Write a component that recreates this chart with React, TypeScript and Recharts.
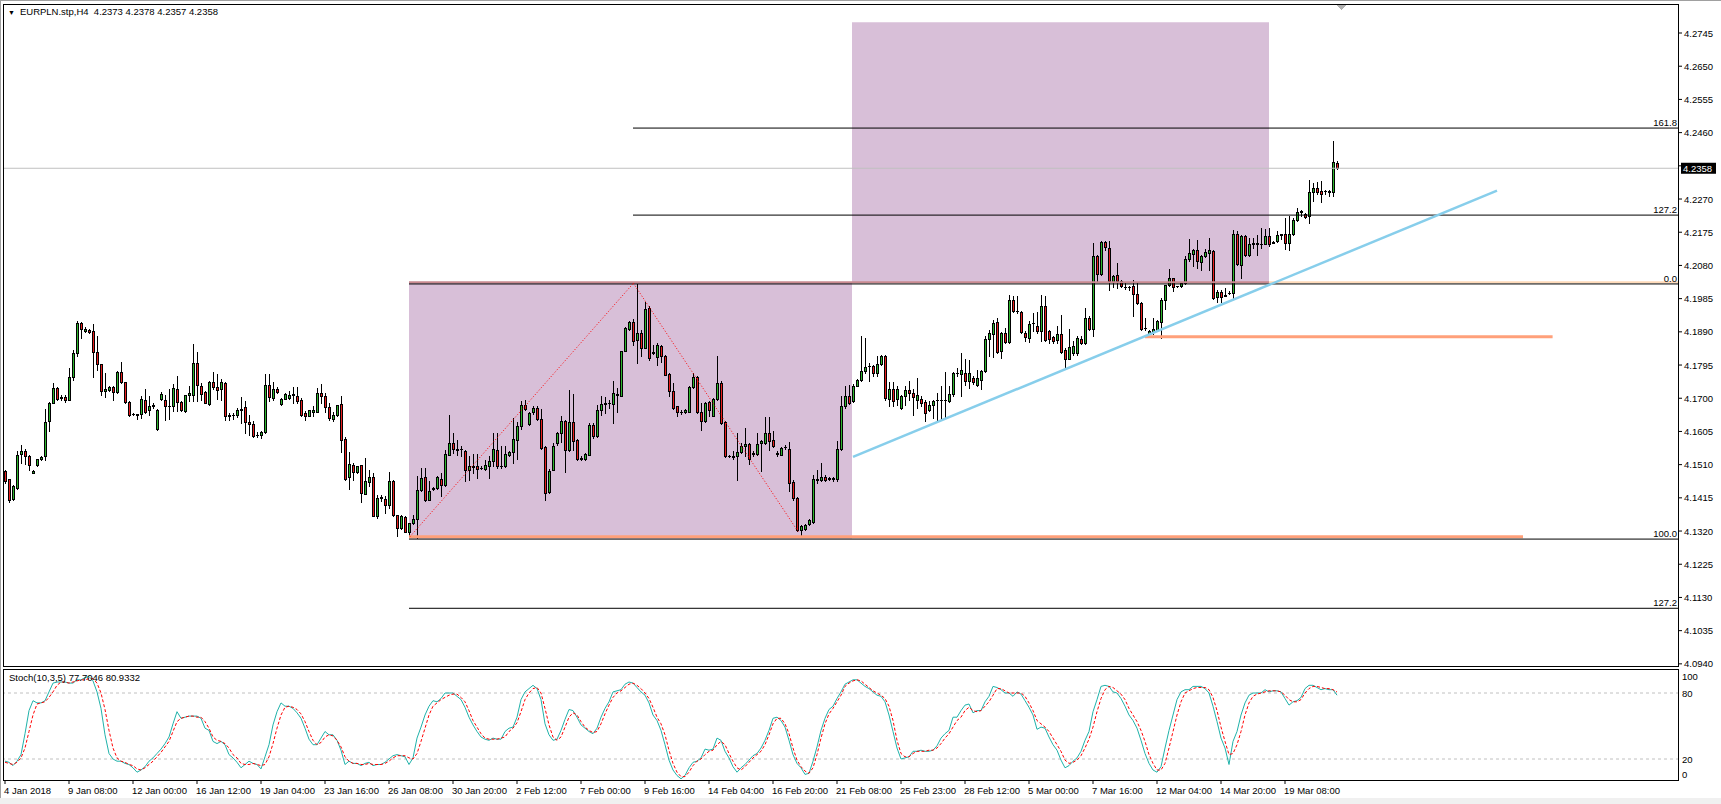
import { ComposedChart, Bar, Line, XAxis, YAxis, ReferenceLine, ReferenceArea } from 'recharts';

// EURPLN H4 candles, one value per bar (bar index = position in array)
const opens = [
  4.1491, 4.1470, 4.1412, 4.1442, 4.1541, 4.1550, 4.1534, 4.1487, 4.1508, 4.1527,
  4.1534, 4.1634, 4.1687, 4.1729, 4.1701, 4.1704, 4.1696, 4.1760, 4.1830, 4.1915,
  4.1891, 4.1896, 4.1891, 4.1831, 4.1799, 4.1722, 4.1723, 4.1732, 4.1717, 4.1774,
  4.1746, 4.1689, 4.1654, 4.1655, 4.1655, 4.1696, 4.1665, 4.1679, 4.1612, 4.1698,
  4.1696, 4.1677, 4.1679, 4.1727, 4.1688, 4.1663, 4.1708, 4.1708, 4.1801, 4.1736,
  4.1717, 4.1684, 4.1747, 4.1732, 4.1727, 4.1744, 4.1650, 4.1651, 4.1653, 4.1667,
  4.1675, 4.1632, 4.1625, 4.1594, 4.1596, 4.1603, 4.1739, 4.1701, 4.1727, 4.1684,
  4.1699, 4.1701, 4.1709, 4.1705, 4.1694, 4.1659, 4.1650, 4.1661, 4.1660, 4.1715,
  4.1706, 4.1675, 4.1641, 4.1651, 4.1684, 4.1582, 4.1475, 4.1510, 4.1488, 4.1508,
  4.1427, 4.1461, 4.1475, 4.1363, 4.1414, 4.1412, 4.1394, 4.1463, 4.1365, 4.1329,
  4.1361, 4.1318, 4.1342, 4.1355, 4.1437, 4.1474, 4.1410, 4.1439, 4.1444, 4.1469,
  4.1451, 4.1539, 4.1572, 4.1554, 4.1554, 4.1550, 4.1494, 4.1504, 4.1507, 4.1500,
  4.1498, 4.1507, 4.1519, 4.1553, 4.1506, 4.1505, 4.1539, 4.1545, 4.1581, 4.1620,
  4.1680, 4.1627, 4.1660, 4.1672, 4.1641, 4.1560, 4.1431, 4.1496, 4.1572, 4.1600,
  4.1636, 4.1551, 4.1632, 4.1581, 4.1527, 4.1527, 4.1539, 4.1624, 4.1591, 4.1665,
  4.1683, 4.1685, 4.1683, 4.1711, 4.1705, 4.1836, 4.1898, 4.1917, 4.1867, 4.1888,
  4.1843, 4.1958, 4.1829, 4.1817, 4.1850, 4.1822, 4.1769, 4.1721, 4.1677, 4.1661,
  4.1660, 4.1662, 4.1732, 4.1762, 4.1660, 4.1634, 4.1688, 4.1650, 4.1698, 4.1745,
  4.1631, 4.1535, 4.1534, 4.1534, 4.1545, 4.1562, 4.1570, 4.1541, 4.1541, 4.1572,
  4.1572, 4.1600, 4.1581, 4.1542, 4.1539, 4.1560, 4.1555, 4.1459, 4.1415, 4.1322,
  4.1326, 4.1341, 4.1345, 4.1467, 4.1465, 4.1475, 4.1470, 4.1471, 4.1470, 4.1555,
  4.1677, 4.1707, 4.1691, 4.1736, 4.1751, 4.1777, 4.1791, 4.1792, 4.1772, 4.1798,
  4.1820, 4.1699, 4.1727, 4.1698, 4.1672, 4.1706, 4.1723, 4.1715, 4.1696, 4.1698,
  4.1689, 4.1666, 4.1680, 4.1694, 4.1695, 4.1694, 4.1691, 4.1711, 4.1772, 4.1768,
  4.1772, 4.1749, 4.1758, 4.1737, 4.1753, 4.1777, 4.1870, 4.1885, 4.1918, 4.1834,
  4.1887, 4.1860, 4.1982, 4.1949, 4.1947, 4.1887, 4.1873, 4.1914, 4.1908, 4.1892,
  4.1963, 4.1892, 4.1875, 4.1868, 4.1884, 4.1837, 4.1812, 4.1828, 4.1828, 4.1870,
  4.1858, 4.1930, 4.1898, 4.2106, 4.2056, 4.2146, 4.2130, 4.2033, 4.2054, 4.2036,
  4.2019, 4.2018, 4.2022, 4.1998, 4.1973, 4.1900, 4.1887, 4.1889, 4.1896, 4.1918,
  4.1982, 4.2025, 4.2044, 4.2021, 4.2022, 4.2030, 4.2098, 4.2114, 4.2125, 4.2089,
  4.2106, 4.2116, 4.2120, 4.1990, 4.2004, 4.1993, 4.2000, 4.2001, 4.2170, 4.2081,
  4.2165, 4.2109, 4.2142, 4.2144, 4.2141, 4.2141, 4.2165, 4.2145, 4.2149, 4.2168,
  4.2170, 4.2144, 4.2170, 4.2211, 4.2234, 4.2227, 4.2221, 4.2290, 4.2302, 4.2294,
  4.2292, 4.2292, 4.2290, 4.2373,
];

const highs = [
  4.1496, 4.1470, 4.1453, 4.1548, 4.1567, 4.1556, 4.1539, 4.1496, 4.1527, 4.1536,
  4.1670, 4.1688, 4.1744, 4.1732, 4.1710, 4.1710, 4.1787, 4.1839, 4.1920, 4.1917,
  4.1904, 4.1898, 4.1911, 4.1877, 4.1799, 4.1772, 4.1736, 4.1736, 4.1777, 4.1803,
  4.1746, 4.1691, 4.1658, 4.1656, 4.1706, 4.1725, 4.1706, 4.1687, 4.1668, 4.1717,
  4.1710, 4.1725, 4.1741, 4.1765, 4.1691, 4.1710, 4.1734, 4.1856, 4.1831, 4.1744,
  4.1720, 4.1750, 4.1774, 4.1770, 4.1756, 4.1747, 4.1658, 4.1658, 4.1672, 4.1704,
  4.1691, 4.1653, 4.1634, 4.1604, 4.1606, 4.1770, 4.1768, 4.1746, 4.1732, 4.1701,
  4.1715, 4.1720, 4.1732, 4.1732, 4.1701, 4.1663, 4.1667, 4.1679, 4.1729, 4.1741,
  4.1715, 4.1685, 4.1660, 4.1682, 4.1706, 4.1589, 4.1546, 4.1515, 4.1506, 4.1510,
  4.1529, 4.1496, 4.1485, 4.1424, 4.1424, 4.1420, 4.1488, 4.1467, 4.1367, 4.1367,
  4.1363, 4.1344, 4.1367, 4.1477, 4.1501, 4.1501, 4.1463, 4.1446, 4.1477, 4.1486,
  4.1553, 4.1653, 4.1600, 4.1581, 4.1562, 4.1553, 4.1534, 4.1541, 4.1540, 4.1505,
  4.1524, 4.1536, 4.1600, 4.1600, 4.1562, 4.1562, 4.1548, 4.1643, 4.1631, 4.1691,
  4.1696, 4.1660, 4.1677, 4.1677, 4.1669, 4.1562, 4.1498, 4.1572, 4.1602, 4.1650,
  4.1639, 4.1724, 4.1712, 4.1583, 4.1534, 4.1543, 4.1629, 4.1629, 4.1681, 4.1705,
  4.1703, 4.1696, 4.1748, 4.1729, 4.1836, 4.1905, 4.1920, 4.1926, 4.2027, 4.1896,
  4.1974, 4.1963, 4.1853, 4.1858, 4.1853, 4.1824, 4.1772, 4.1743, 4.1679, 4.1667,
  4.1669, 4.1734, 4.1772, 4.1764, 4.1686, 4.1688, 4.1691, 4.1701, 4.1820, 4.1748,
  4.1634, 4.1539, 4.1548, 4.1600, 4.1572, 4.1615, 4.1572, 4.1548, 4.1600, 4.1581,
  4.1646, 4.1646, 4.1605, 4.1548, 4.1560, 4.1567, 4.1574, 4.1467, 4.1417, 4.1338,
  4.1340, 4.1355, 4.1481, 4.1494, 4.1515, 4.1481, 4.1475, 4.1475, 4.1577, 4.1705,
  4.1734, 4.1739, 4.1740, 4.1755, 4.1877, 4.1873, 4.1801, 4.1796, 4.1820, 4.1825,
  4.1825, 4.1746, 4.1746, 4.1734, 4.1708, 4.1734, 4.1749, 4.1725, 4.1758, 4.1706,
  4.1696, 4.1691, 4.1696, 4.1715, 4.1734, 4.1774, 4.1736, 4.1774, 4.1787, 4.1828,
  4.1812, 4.1809, 4.1765, 4.1782, 4.1780, 4.1879, 4.1894, 4.1923, 4.1930, 4.1889,
  4.1901, 4.1996, 4.1992, 4.1992, 4.1949, 4.1892, 4.1920, 4.1944, 4.1946, 4.1994,
  4.1992, 4.1894, 4.1877, 4.1906, 4.1939, 4.1844, 4.1898, 4.1863, 4.1877, 4.1877,
  4.1958, 4.1934, 4.2144, 4.2111, 4.2149, 4.2149, 4.2149, 4.2054, 4.2087, 4.2039,
  4.2030, 4.2022, 4.2037, 4.2030, 4.1975, 4.1930, 4.1896, 4.1930, 4.1925, 4.1987,
  4.2025, 4.2070, 4.2044, 4.2022, 4.2032, 4.2106, 4.2156, 4.2127, 4.2152, 4.2111,
  4.2127, 4.2158, 4.2123, 4.2011, 4.2011, 4.2016, 4.2006, 4.2182, 4.2178, 4.2168,
  4.2168, 4.2159, 4.2159, 4.2168, 4.2187, 4.2184, 4.2187, 4.2149, 4.2178, 4.2170,
  4.2216, 4.2221, 4.2216, 4.2244, 4.2240, 4.2230, 4.2325, 4.2316, 4.2318, 4.2321,
  4.2295, 4.2295, 4.2437, 4.2378,
];

const lows = [
  4.1458, 4.1403, 4.1408, 4.1439, 4.1515, 4.1512, 4.1496, 4.1485, 4.1506, 4.1523,
  4.1523, 4.1606, 4.1685, 4.1696, 4.1696, 4.1689, 4.1696, 4.1753, 4.1820, 4.1872,
  4.1889, 4.1887, 4.1761, 4.1782, 4.1708, 4.1704, 4.1720, 4.1696, 4.1715, 4.1744,
  4.1685, 4.1648, 4.1651, 4.1641, 4.1644, 4.1658, 4.1653, 4.1672, 4.1610, 4.1696,
  4.1639, 4.1641, 4.1663, 4.1663, 4.1663, 4.1661, 4.1691, 4.1691, 4.1691, 4.1696,
  4.1685, 4.1682, 4.1727, 4.1698, 4.1696, 4.1639, 4.1639, 4.1641, 4.1647, 4.1629,
  4.1601, 4.1596, 4.1589, 4.1589, 4.1587, 4.1601, 4.1691, 4.1696, 4.1715, 4.1682,
  4.1698, 4.1698, 4.1685, 4.1687, 4.1650, 4.1639, 4.1648, 4.1648, 4.1660, 4.1687,
  4.1660, 4.1639, 4.1634, 4.1650, 4.1546, 4.1467, 4.1441, 4.1467, 4.1485, 4.1403,
  4.1425, 4.1448, 4.1363, 4.1358, 4.1405, 4.1372, 4.1386, 4.1364, 4.1305, 4.1326,
  4.1317, 4.1310, 4.1339, 4.1301, 4.1434, 4.1405, 4.1408, 4.1437, 4.1439, 4.1420,
  4.1448, 4.1539, 4.1543, 4.1539, 4.1536, 4.1462, 4.1467, 4.1486, 4.1472, 4.1498,
  4.1496, 4.1472, 4.1505, 4.1500, 4.1500, 4.1503, 4.1536, 4.1515, 4.1526, 4.1612,
  4.1667, 4.1624, 4.1656, 4.1639, 4.1555, 4.1408, 4.1429, 4.1494, 4.1567, 4.1574,
  4.1488, 4.1548, 4.1551, 4.1524, 4.1522, 4.1524, 4.1537, 4.1586, 4.1589, 4.1653,
  4.1658, 4.1672, 4.1629, 4.1662, 4.1705, 4.1834, 4.1896, 4.1853, 4.1801, 4.1820,
  4.1843, 4.1810, 4.1827, 4.1796, 4.1805, 4.1767, 4.1705, 4.1669, 4.1648, 4.1656,
  4.1658, 4.1660, 4.1729, 4.1658, 4.1608, 4.1631, 4.1648, 4.1648, 4.1696, 4.1627,
  4.1532, 4.1532, 4.1526, 4.1467, 4.1543, 4.1536, 4.1513, 4.1534, 4.1539, 4.1491,
  4.1570, 4.1551, 4.1560, 4.1534, 4.1537, 4.1555, 4.1434, 4.1410, 4.1319, 4.1310,
  4.1324, 4.1338, 4.1343, 4.1458, 4.1462, 4.1462, 4.1467, 4.1462, 4.1462, 4.1553,
  4.1672, 4.1684, 4.1688, 4.1734, 4.1749, 4.1772, 4.1749, 4.1763, 4.1763, 4.1796,
  4.1696, 4.1677, 4.1679, 4.1682, 4.1670, 4.1682, 4.1696, 4.1653, 4.1672, 4.1677,
  4.1634, 4.1663, 4.1644, 4.1639, 4.1641, 4.1644, 4.1689, 4.1706, 4.1765, 4.1706,
  4.1739, 4.1730, 4.1741, 4.1734, 4.1725, 4.1774, 4.1820, 4.1818, 4.1830, 4.1815,
  4.1858, 4.1858, 4.1946, 4.1944, 4.1887, 4.1863, 4.1860, 4.1892, 4.1887, 4.1863,
  4.1863, 4.1858, 4.1858, 4.1858, 4.1830, 4.1784, 4.1811, 4.1825, 4.1825, 4.1856,
  4.1856, 4.1896, 4.1877, 4.2032, 4.2054, 4.2125, 4.2011, 4.2018, 4.2015, 4.2018,
  4.2013, 4.2011, 4.1934, 4.1971, 4.1896, 4.1896, 4.1885, 4.1885, 4.1894, 4.1873,
  4.1954, 4.2022, 4.2006, 4.2018, 4.2018, 4.2028, 4.2092, 4.2077, 4.2073, 4.2068,
  4.2104, 4.2066, 4.1984, 4.1975, 4.1975, 4.1992, 4.1999, 4.1987, 4.2081, 4.2044,
  4.2108, 4.2106, 4.2130, 4.2111, 4.2130, 4.2140, 4.2137, 4.2144, 4.2146, 4.2156,
  4.2127, 4.2123, 4.2168, 4.2206, 4.2221, 4.2216, 4.2202, 4.2264, 4.2285, 4.2261,
  4.2283, 4.2280, 4.2280, 4.2357,
];

const closes = [
  4.1463, 4.1410, 4.1448, 4.1539, 4.1550, 4.1536, 4.1508, 4.1493, 4.1525, 4.1532,
  4.1632, 4.1687, 4.1729, 4.1699, 4.1704, 4.1694, 4.1761, 4.1830, 4.1915, 4.1898,
  4.1898, 4.1890, 4.1831, 4.1799, 4.1720, 4.1725, 4.1732, 4.1717, 4.1774, 4.1746,
  4.1689, 4.1651, 4.1656, 4.1653, 4.1699, 4.1660, 4.1679, 4.1681, 4.1667, 4.1712,
  4.1677, 4.1679, 4.1729, 4.1688, 4.1666, 4.1708, 4.1715, 4.1801, 4.1737, 4.1713,
  4.1687, 4.1747, 4.1732, 4.1723, 4.1747, 4.1648, 4.1651, 4.1653, 4.1667, 4.1670,
  4.1631, 4.1626, 4.1591, 4.1596, 4.1603, 4.1739, 4.1703, 4.1725, 4.1717, 4.1698,
  4.1712, 4.1710, 4.1711, 4.1691, 4.1653, 4.1650, 4.1665, 4.1666, 4.1715, 4.1706,
  4.1675, 4.1644, 4.1653, 4.1682, 4.1580, 4.1470, 4.1512, 4.1488, 4.1506, 4.1429,
  4.1463, 4.1474, 4.1364, 4.1415, 4.1416, 4.1394, 4.1463, 4.1367, 4.1329, 4.1364,
  4.1318, 4.1342, 4.1355, 4.1437, 4.1472, 4.1410, 4.1434, 4.1444, 4.1474, 4.1451,
  4.1541, 4.1572, 4.1555, 4.1553, 4.1556, 4.1494, 4.1505, 4.1506, 4.1498, 4.1501,
  4.1508, 4.1521, 4.1555, 4.1505, 4.1507, 4.1540, 4.1546, 4.1583, 4.1620, 4.1681,
  4.1670, 4.1658, 4.1672, 4.1641, 4.1558, 4.1429, 4.1493, 4.1564, 4.1600, 4.1634,
  4.1551, 4.1632, 4.1577, 4.1527, 4.1528, 4.1540, 4.1624, 4.1591, 4.1667, 4.1684,
  4.1685, 4.1686, 4.1715, 4.1710, 4.1836, 4.1901, 4.1917, 4.1865, 4.1888, 4.1843,
  4.1955, 4.1815, 4.1831, 4.1853, 4.1820, 4.1767, 4.1720, 4.1672, 4.1660, 4.1662,
  4.1667, 4.1732, 4.1762, 4.1660, 4.1634, 4.1686, 4.1665, 4.1698, 4.1743, 4.1629,
  4.1534, 4.1536, 4.1533, 4.1546, 4.1562, 4.1570, 4.1526, 4.1542, 4.1570, 4.1577,
  4.1600, 4.1577, 4.1562, 4.1541, 4.1558, 4.1561, 4.1457, 4.1415, 4.1324, 4.1334,
  4.1338, 4.1353, 4.1470, 4.1468, 4.1475, 4.1465, 4.1471, 4.1470, 4.1555, 4.1677,
  4.1707, 4.1686, 4.1736, 4.1751, 4.1777, 4.1789, 4.1792, 4.1771, 4.1798, 4.1820,
  4.1701, 4.1727, 4.1691, 4.1725, 4.1706, 4.1723, 4.1715, 4.1704, 4.1708, 4.1685,
  4.1658, 4.1682, 4.1691, 4.1695, 4.1694, 4.1695, 4.1711, 4.1772, 4.1773, 4.1782,
  4.1749, 4.1772, 4.1746, 4.1758, 4.1777, 4.1870, 4.1887, 4.1915, 4.1832, 4.1887,
  4.1860, 4.1982, 4.1949, 4.1950, 4.1889, 4.1875, 4.1913, 4.1915, 4.1892, 4.1963,
  4.1868, 4.1870, 4.1863, 4.1884, 4.1832, 4.1812, 4.1847, 4.1849, 4.1873, 4.1858,
  4.1930, 4.1898, 4.2106, 4.2056, 4.2146, 4.2132, 4.2035, 4.2051, 4.2035, 4.2022,
  4.2018, 4.2019, 4.1998, 4.1973, 4.1898, 4.1901, 4.1893, 4.1898, 4.1920, 4.1982,
  4.2025, 4.2044, 4.2018, 4.2020, 4.2030, 4.2098, 4.2116, 4.2125, 4.2092, 4.2106,
  4.2118, 4.2123, 4.1987, 4.2004, 4.1990, 4.1995, 4.2001, 4.2170, 4.2084, 4.2165,
  4.2111, 4.2142, 4.2144, 4.2141, 4.2140, 4.2165, 4.2141, 4.2146, 4.2168, 4.2169,
  4.2144, 4.2170, 4.2211, 4.2233, 4.2235, 4.2218, 4.2290, 4.2302, 4.2290, 4.2285,
  4.2292, 4.2291, 4.2376, 4.2358,
];

// Stoch(10,3,5): main line and signal line
const stochMain = [
  18, 17, 14, 18, 24, 43, 64, 73, 71, 71,
  73, 81, 89, 90, 90, 90, 89, 89, 92, 92,
  94, 95, 91, 81, 66, 42, 25, 20, 18, 18,
  16, 15, 12, 8, 10, 13, 18, 21, 25, 29,
  34, 40, 52, 63, 57, 58, 59, 59, 59, 57,
  48, 46, 36, 34, 36, 33, 24, 21, 17, 12,
  15, 18, 16, 15, 11, 22, 33, 51, 63, 71,
  68, 68, 66, 62, 57, 48, 38, 33, 33, 39,
  45, 42, 42, 37, 28, 15, 18, 16, 16, 14,
  16, 17, 14, 15, 15, 17, 20, 23, 24, 23,
  22, 15, 21, 39, 49, 60, 68, 73, 72, 75,
  80, 80, 80, 77, 74, 67, 58, 51, 45, 40,
  38, 37, 39, 38, 38, 45, 48, 49, 58, 74,
  81, 84, 87, 84, 74, 52, 42, 37, 38, 46,
  56, 65, 64, 58, 51, 48, 45, 43, 48, 58,
  66, 72, 81, 82, 83, 88, 90, 89, 85, 81,
  78, 71, 60, 55, 46, 33, 19, 10, 5, 2,
  5, 12, 17, 18, 21, 29, 28, 29, 39, 37,
  27, 21, 13, 8, 12, 15, 19, 23, 25, 30,
  37, 46, 57, 58, 55, 49, 37, 24, 16, 12,
  6, 7, 18, 31, 46, 57, 65, 68, 75, 81,
  88, 90, 92, 92, 89, 86, 84, 81, 78, 77,
  72, 60, 45, 30, 20, 21, 22, 27, 27, 28,
  27, 27, 28, 32, 39, 43, 46, 58, 58, 64,
  69, 70, 62, 64, 64, 72, 77, 86, 85, 83,
  80, 80, 77, 81, 79, 73, 67, 60, 47, 49,
  48, 40, 33, 28, 19, 12, 14, 18, 21, 27,
  37, 45, 63, 74, 86, 87, 86, 81, 80, 75,
  68, 60, 55, 48, 37, 25, 16, 10, 8, 13,
  30, 46, 60, 74, 81, 83, 83, 86, 86, 86,
  84, 80, 68, 54, 39, 30, 15, 36, 45, 60,
  71, 78, 80, 80, 80, 83, 81, 82, 82, 81,
  75, 69, 72, 73, 76, 84, 87, 87, 85, 83,
  84, 83, 83, 78,
];

const stochSignal = [
  17, 16, 15, 17, 21, 30, 45, 60, 70, 71,
  72, 76, 81, 87, 90, 90, 89, 90, 91, 92,
  92, 93, 93, 89, 80, 65, 46, 30, 21, 18,
  17, 15, 14, 11, 10, 12, 15, 18, 22, 26,
  31, 36, 45, 54, 57, 58, 59, 59, 58, 58,
  54, 48, 40, 37, 36, 34, 30, 24, 21, 16,
  15, 15, 16, 15, 14, 15, 22, 34, 48, 60,
  67, 68, 67, 65, 61, 54, 45, 37, 33, 35,
  40, 42, 41, 37, 31, 22, 18, 16, 16, 15,
  15, 16, 15, 15, 15, 16, 18, 21, 23, 23,
  23, 21, 20, 25, 36, 48, 60, 68, 71, 74,
  76, 78, 79, 79, 76, 72, 64, 55, 49, 43,
  39, 38, 38, 38, 39, 40, 45, 48, 53, 63,
  74, 80, 84, 85, 80, 66, 51, 40, 37, 40,
  49, 58, 62, 60, 54, 49, 46, 44, 45, 52,
  61, 69, 76, 80, 82, 85, 88, 89, 87, 84,
  80, 75, 67, 58, 52, 42, 28, 16, 8, 4,
  4, 8, 14, 18, 20, 24, 27, 28, 33, 36,
  33, 25, 18, 12, 10, 13, 17, 21, 24, 27,
  33, 42, 52, 57, 57, 52, 43, 30, 19, 13,
  9, 7, 12, 24, 39, 52, 61, 66, 72, 78,
  86, 89, 91, 92, 91, 88, 85, 82, 80, 78,
  75, 68, 55, 37, 25, 22, 22, 25, 27, 27,
  27, 28, 28, 30, 34, 39, 43, 49, 55, 58,
  64, 67, 64, 63, 64, 68, 72, 78, 84, 84,
  82, 80, 80, 80, 80, 77, 71, 64, 55, 52,
  49, 45, 39, 33, 27, 19, 16, 17, 19, 23,
  30, 38, 49, 63, 75, 83, 86, 85, 82, 79,
  74, 66, 60, 54, 46, 36, 24, 16, 10, 10,
  16, 30, 45, 60, 72, 80, 82, 84, 85, 85,
  85, 83, 76, 64, 49, 36, 24, 25, 33, 45,
  60, 71, 77, 79, 80, 81, 82, 82, 82, 81,
  78, 74, 72, 72, 74, 80, 84, 86, 86, 85,
  84, 84, 83, 81,
];

const dateTicks = [0, 16, 32, 48, 64, 80, 96, 112, 128, 144, 160, 176, 192, 208, 224, 240, 256, 272, 288, 304, 320];
const dateLabels = [
  '4 Jan 2018', '9 Jan 08:00', '12 Jan 00:00', '16 Jan 12:00', '19 Jan 04:00', '23 Jan 16:00',
  '26 Jan 08:00', '30 Jan 20:00', '2 Feb 12:00', '7 Feb 00:00', '9 Feb 16:00', '14 Feb 04:00',
  '16 Feb 20:00', '21 Feb 08:00', '25 Feb 23:00', '28 Feb 12:00', '5 Mar 00:00', '7 Mar 16:00',
  '12 Mar 04:00', '14 Mar 20:00', '19 Mar 08:00',
];
const priceTicks = [
  4.0940, 4.1035, 4.1130, 4.1225, 4.1320, 4.1415, 4.1510, 4.1605, 4.1700, 4.1795,
  4.1890, 4.1985, 4.2080, 4.2175, 4.2270, 4.2365, 4.2460, 4.2555, 4.2650, 4.2745,
];
const hiddenPriceTicks = [4.2365];
const stochTicks = [0, 20, 80, 100];
const lastPrice = 4.2358;

// drawn objects on the price chart
const fibLevels = [
  { label: '161.8', price: 4.2473, from: 157 },
  { label: '127.2', price: 4.2224, from: 157 },
  { label: '0.0', price: 4.2027, from: 101 },
  { label: '100.0', price: 4.1297, from: 101 },
  { label: '127.2', price: 4.1099, from: 101 },
];
const boxes = [
  { x1: 101, x2: 211.75, y1: 4.1299, y2: 4.2031 },
  { x1: 211.75, x2: 316, y1: 4.2031, y2: 4.2776 },
];
const salmonLines = [
  { x1: 101, x2: 379.5, price: 4.1304 },
  { x1: 285, x2: 386.9, price: 4.1876 },
];
const trendLine = [{ x: 212, y: 4.1532 }, { x: 373, y: 4.2294 }];
const zigzag = [
  { x: 101.25, y: 4.1304 },
  { x: 157.1, y: 4.2029 },
  { x: 198.3, y: 4.1318 },
];

const X_DOMAIN: [number, number] = [-0.5, 418.5];
const FONT = '"Liberation Sans", Arial, sans-serif';
const BULL = '#2DB52D';
const BEAR = '#E81E1E';

const candles = opens.map((o, i) => ({
  i,
  o,
  h: highs[i],
  l: lows[i],
  c: closes[i],
  range: [lows[i], highs[i]],
}));
const stoch = stochMain.map((k, i) => ({ i, k, d: stochSignal[i] }));

const Candle = (props: any) => {
  const { x, y, width, height, payload } = props;
  if (x == null || y == null || !payload) return null;
  const top = Math.min(y, y + height);
  const h = Math.abs(height);
  const span = payload.h - payload.l;
  const py = (p: number) => (span > 0 ? top + ((payload.h - p) / span) * h : top);
  const cx = Math.round(x + width / 2);
  const bTop = Math.round(py(Math.max(payload.o, payload.c)));
  const bBot = Math.round(py(Math.min(payload.o, payload.c)));
  const up = payload.c >= payload.o;
  return (
    <g shapeRendering="crispEdges">
      <rect x={cx} y={Math.round(top)} width={1} height={Math.max(1, Math.round(top + h) - Math.round(top) + 1)} fill="#000" />
      <rect x={cx - 1} y={bTop} width={3} height={Math.max(1, bBot - bTop + 1)} fill="#000" />
      {bBot - bTop > 1 && <rect x={cx} y={bTop + 1} width={1} height={bBot - bTop - 1} fill={up ? BULL : BEAR} />}
    </g>
  );
};

const PriceTick = (props: any) => {
  const { x, y, payload } = props;
  if (hiddenPriceTicks.includes(payload.value)) return null;
  return (
    <text x={x} y={y + 3.5} fontSize={9.5} fontFamily={FONT} fill="#000" textAnchor="start">
      {Number(payload.value).toFixed(4)}
    </text>
  );
};

const StochTick = (props: any) => {
  const { x, y, payload } = props;
  const v = payload.value;
  const dy = v === 100 ? 9 : v === 0 ? -3 : 3.5;
  return (
    <text x={x + 3} y={y + dy} fontSize={9.5} fontFamily={FONT} fill="#000" textAnchor="start">
      {v}
    </text>
  );
};

const DateTick = (props: any) => {
  const { x, y, payload } = props;
  const idx = dateTicks.indexOf(payload.value);
  return (
    <text x={x - 1} y={y + 8} fontSize={9.5} fontFamily={FONT} fill="#000" textAnchor="start">
      {dateLabels[idx]}
    </text>
  );
};

const fibLabel = (text: string) => (props: any) => {
  const vb = props.viewBox || {};
  return (
    <text x={vb.x + vb.width - 2} y={vb.y - 2} fontSize={9.5} fontFamily={FONT} fill="#000" textAnchor="end">
      {text}
    </text>
  );
};

const priceBadge = (props: any) => {
  const vb = props.viewBox || {};
  const left = vb.x + vb.width + 2;
  return (
    <g>
      <rect x={left} y={vb.y - 5.5} width={35} height={11} fill="#000" />
      <text x={left + 2} y={vb.y + 3.5} fontSize={9.5} fontFamily={FONT} fill="#fff" textAnchor="start">
        {lastPrice.toFixed(4)}
      </text>
    </g>
  );
};

export default function App() {
  return (
    <div style={{ position: 'relative', width: 1721, height: 804, background: '#fff', overflow: 'hidden', fontFamily: FONT }}>
      <style>{'body{margin:0;}'}</style>

      <div style={{ position: 'absolute', left: 0, top: 0 }}>
        <ComposedChart width={1721} height={672} data={candles} margin={{ top: 4, right: 0, bottom: 5, left: 3 }}>
          <XAxis dataKey="i" type="number" domain={X_DOMAIN} allowDataOverflow hide />
          <YAxis
            orientation="right"
            width={42}
            type="number"
            domain={[4.0931, 4.2828]}
            allowDataOverflow
            ticks={priceTicks}
            interval={0}
            tickSize={3}
            tickMargin={2}
            axisLine={false}
            tickLine={{ stroke: '#000' }}
            tick={<PriceTick />}
          />
          {boxes.map((b, n) => (
            <ReferenceArea key={'box' + n} x1={b.x1} x2={b.x2} y1={b.y1} y2={b.y2} fill="#D8BFD8" fillOpacity={1} stroke="none" zIndex={-50} />
          ))}
          <ReferenceLine y={lastPrice} stroke="#C0C0C0" strokeWidth={1} label={priceBadge} />
          {salmonLines.map((s, n) => (
            <ReferenceLine key={'sal' + n} segment={[{ x: s.x1, y: s.price }, { x: s.x2, y: s.price }]} stroke="#FFA07A" strokeWidth={3} />
          ))}
          <ReferenceLine segment={[{ x: 101, y: 4.2032 }, { x: 316, y: 4.2032 }]} stroke="#C98A90" strokeWidth={2} />
          <ReferenceLine segment={[{ x: 316, y: 4.2032 }, { x: X_DOMAIN[1], y: 4.2032 }]} stroke="#FFDAB9" strokeWidth={2} />
          {fibLevels.map((f, n) => (
            <ReferenceLine
              key={'fib' + n}
              segment={[{ x: f.from, y: f.price }, { x: X_DOMAIN[1], y: f.price }]}
              stroke="#000"
              strokeWidth={1}
              label={fibLabel(f.label)}
            />
          ))}
          <Bar dataKey="range" shape={<Candle />} isAnimationActive={false} />
          <ReferenceLine segment={trendLine} stroke="#87CEEB" strokeWidth={2.5} />
          <ReferenceLine segment={[zigzag[0], zigzag[1]]} stroke="#FF0000" strokeWidth={1} strokeDasharray="1 2" />
          <ReferenceLine segment={[zigzag[1], zigzag[2]]} stroke="#FF0000" strokeWidth={1} strokeDasharray="1 2" />
        </ComposedChart>
      </div>

      <div style={{ position: 'absolute', left: 0, top: 667 }}>
        <ComposedChart width={1721} height={137} data={stoch} margin={{ top: 4, right: 0, bottom: 0, left: 3 }}>
          <XAxis
            dataKey="i"
            type="number"
            domain={X_DOMAIN}
            allowDataOverflow
            ticks={dateTicks}
            interval={0}
            height={23}
            tickSize={3}
            tickMargin={2}
            axisLine={false}
            tickLine={{ stroke: '#000' }}
            tick={<DateTick />}
          />
          <YAxis
            orientation="right"
            width={42}
            type="number"
            domain={[0, 100]}
            allowDataOverflow
            ticks={stochTicks}
            interval={0}
            tickLine={false}
            axisLine={false}
            tickSize={0}
            tickMargin={0}
            tick={<StochTick />}
          />
          <ReferenceLine y={80} stroke="#C0C0C0" strokeDasharray="3 3" />
          <ReferenceLine y={20} stroke="#C0C0C0" strokeDasharray="3 3" />
          <Line type="linear" dataKey="k" stroke="#20B2AA" strokeWidth={1} dot={false} isAnimationActive={false} />
          <Line type="linear" dataKey="d" stroke="#FF0000" strokeWidth={1} strokeDasharray="3 2" dot={false} isAnimationActive={false} />
        </ComposedChart>
      </div>

      <svg width={1721} height={804} style={{ position: 'absolute', left: 0, top: 0, pointerEvents: 'none' }} shapeRendering="crispEdges">
        <line x1={0} y1={0.5} x2={1721} y2={0.5} stroke="#A0A0A0" />
        <line x1={0.5} y1={0} x2={0.5} y2={804} stroke="#A0A0A0" />
        <rect x={3.5} y={4.5} width={1675} height={662} fill="none" stroke="#000" />
        <rect x={3.5} y={669.5} width={1675} height={111} fill="none" stroke="#000" />
        <polygon points="1337,5 1346,5 1341.5,10" fill="#B0B0B0" />
        <rect x={0} y={798} width={1721} height={6} fill="#F0F0F0" />
      </svg>

      <div style={{ position: 'absolute', left: 8, top: 6, fontSize: 9.5, lineHeight: '12px', color: '#000', whiteSpace: 'pre' }}>
        <span style={{ fontSize: 7, marginRight: 5 }}>▼</span>
        {'EURPLN.stp,H4  4.2373 4.2378 4.2357 4.2358'}
      </div>
      <div style={{ position: 'absolute', left: 9, top: 672, fontSize: 9.5, lineHeight: '12px', color: '#000', whiteSpace: 'pre' }}>
        {'Stoch(10,3,5) 77.7046 80.9332'}
      </div>
    </div>
  );
}
